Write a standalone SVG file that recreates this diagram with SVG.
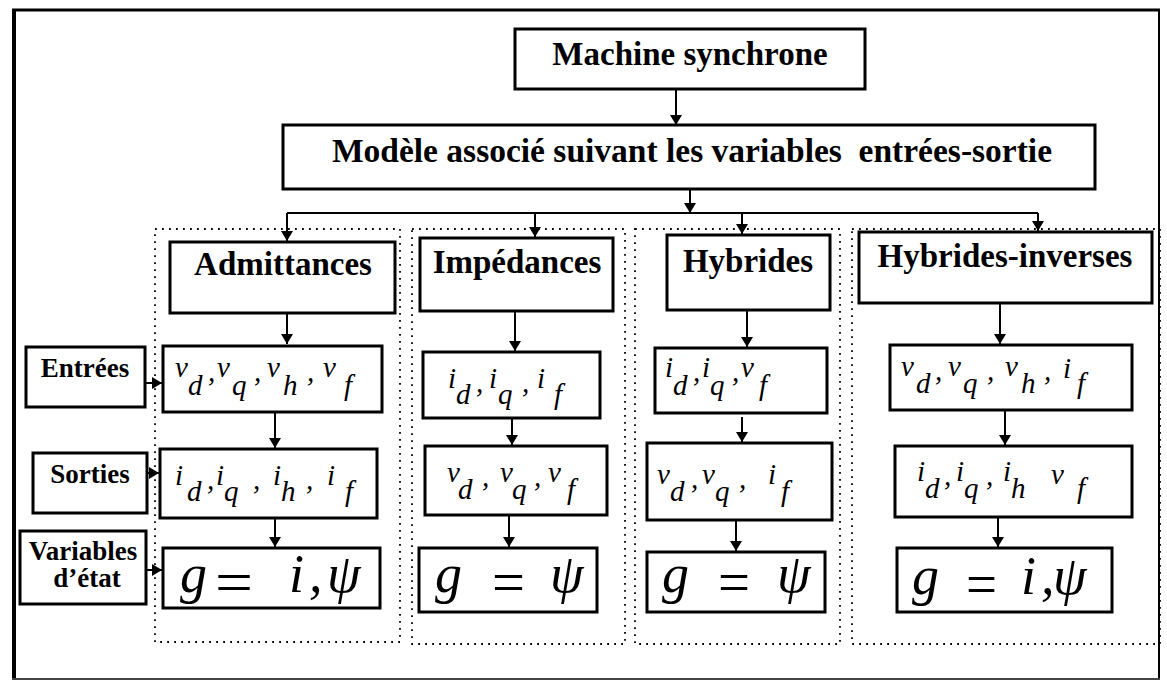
<svg xmlns="http://www.w3.org/2000/svg" width="1167" height="683" viewBox="0 0 1167 683">
<defs>
<style>
.box{fill:#fff;stroke:#000;stroke-width:3}
.dot{fill:none;stroke:#000;stroke-width:1.8;stroke-dasharray:1.8 5.2}
.con{fill:none;stroke:#000;stroke-width:2}
.arr{marker-end:url(#ah)}
.h{font-family:"Liberation Serif","Times New Roman",serif;font-weight:bold;font-size:33px;text-anchor:middle;fill:#000}
.s{font-family:"Liberation Serif","Times New Roman",serif;font-weight:bold;font-size:27px;text-anchor:middle;fill:#000}
.m{font-family:"Liberation Serif","Times New Roman",serif;font-style:italic;font-size:29px;fill:#000}
.g{font-family:"Liberation Serif","Times New Roman",serif;font-style:italic;font-size:54px;fill:#000}
.eq{font-family:"Liberation Serif","Times New Roman",serif;font-size:62px;fill:#000}
</style>
<marker id="ah" viewBox="0 0 10 12" refX="10" refY="6" markerWidth="11" markerHeight="12" markerUnits="userSpaceOnUse" orient="auto">
<path d="M0,0 L10,6 L0,12 z" fill="#000"/>
</marker>
</defs>
<rect x="0" y="0" width="1167" height="683" fill="#fff"/>
<g id="frame" fill="none" stroke="#000">
<path d="M14,9 V679" stroke-width="4"/>
<path d="M12,10 H1160" stroke-width="3"/>
<path d="M1159,9 V680" stroke-width="2"/>
<path d="M12,679 H1160" stroke-width="2" stroke="#444"/>
</g>
<g id="columns">
<rect class="dot" x="155" y="229" width="245" height="413"/>
<rect class="dot" x="412" y="229" width="213" height="415"/>
<rect class="dot" x="635" y="229" width="205" height="415"/>
<rect class="dot" x="852" y="229" width="308" height="415"/>
</g>
<g id="connectors">
<path class="con arr" d="M676,89 V125"/>
<path class="con arr" d="M690,189 V213"/>
<path class="con" d="M287,213 H1038"/>
<path class="con arr" d="M287,213 V241"/>
<path class="con arr" d="M535,213 V237"/>
<path class="con arr" d="M742,213 V234"/>
<path class="con arr" d="M1038,213 V231"/>
<path class="con arr" d="M287,313 V344"/>
<path class="con arr" d="M275,412 V448"/>
<path class="con arr" d="M275,518 V547"/>
<path class="con arr" d="M145,383 H162"/>
<path class="con arr" d="M147,473 H159"/>
<path class="con arr" d="M146,570 H162"/>
<path class="con arr" d="M515,311 V351"/>
<path class="con arr" d="M512,418 V445"/>
<path class="con arr" d="M509,515 V547"/>
<path class="con arr" d="M747,310 V347"/>
<path class="con arr" d="M742,417 V442"/>
<path class="con arr" d="M736,520 V551"/>
<path class="con arr" d="M1000,303 V344"/>
<path class="con arr" d="M1005,410 V445"/>
<path class="con arr" d="M998,517 V547"/>
</g>
<g id="machine">
<rect class="box" x="515" y="29" width="350" height="60"/>
<text class="h" x="690" y="65">Machine synchrone</text>
</g>
<g id="modele">
<rect class="box" x="283" y="125" width="812" height="64"/>
<text class="h" x="692" y="162" style="font-size:33.5px">Modèle associé suivant les variables&#160; entrées-sortie</text>
</g>
<g id="admittances">
<rect class="box" x="170" y="242" width="225" height="71"/>
<text class="h" x="283" y="275">Admittances</text>
</g>
<g id="impedances">
<rect class="box" x="420" y="238" width="193" height="73"/>
<text class="h" x="517" y="273">Impédances</text>
</g>
<g id="hybrides">
<rect class="box" x="667" y="235" width="163" height="75"/>
<text class="h" x="748" y="272">Hybrides</text>
</g>
<g id="hybrides-inverses">
<rect class="box" x="859" y="232" width="293" height="71"/>
<text class="h" x="1005" y="267">Hybrides-inverses</text>
</g>
<g id="entrees">
<rect class="box" x="26" y="347" width="119" height="60"/>
<text class="s" x="85" y="377">Entrées</text>
</g>
<g id="sorties">
<rect class="box" x="33" y="453" width="114" height="60"/>
<text class="s" x="90" y="483">Sorties</text>
</g>
<g id="variables-etat">
<rect class="box" x="20" y="531" width="126" height="73"/>
<text class="s" x="83" y="560">Variables</text>
<text class="s" x="87" y="587">d’état</text>
</g>
<g id="adm-entrees">
<rect class="box" x="163" y="346" width="219" height="66"/>
<text class="m"><tspan x="175" y="377">v</tspan><tspan x="188" y="395">d</tspan><tspan x="208" y="381">,</tspan><tspan x="217" y="377">v</tspan><tspan x="232" y="395">q</tspan><tspan x="254" y="381">,</tspan><tspan x="267" y="377">v</tspan><tspan x="283" y="395">h</tspan><tspan x="307" y="381">,</tspan><tspan x="323" y="377">v</tspan><tspan x="344" y="395">f</tspan></text>
</g>
<g id="adm-sorties">
<rect class="box" x="160" y="449" width="217" height="69"/>
<text class="m"><tspan x="175" y="485">i</tspan><tspan x="187" y="501">d</tspan><tspan x="207" y="489">,</tspan><tspan x="216" y="485">i</tspan><tspan x="224" y="501">q</tspan><tspan x="253" y="489">,</tspan><tspan x="273" y="485">i</tspan><tspan x="281" y="501">h</tspan><tspan x="306" y="489">,</tspan><tspan x="327" y="485">i</tspan><tspan x="345" y="501">f</tspan></text>
</g>
<g id="adm-etat">
<rect class="box" x="163" y="548" width="217" height="60"/>
<text class="g" x="180" y="592">g</text>
<text class="eq" x="215" y="603" textLength="38" lengthAdjust="spacingAndGlyphs">=</text>
<text class="g"><tspan x="289" y="592">i</tspan><tspan x="309" y="592">,</tspan><tspan x="327" y="592">ψ</tspan></text>
</g>
<g id="imp-entrees">
<rect class="box" x="423" y="352" width="177" height="66"/>
<text class="m"><tspan x="448" y="388">i</tspan><tspan x="456" y="404">d</tspan><tspan x="476" y="392">,</tspan><tspan x="489" y="388">i</tspan><tspan x="498" y="404">q</tspan><tspan x="522" y="392">,</tspan><tspan x="537" y="388">i</tspan><tspan x="554" y="404">f</tspan></text>
</g>
<g id="imp-sorties">
<rect class="box" x="425" y="446" width="182" height="69"/>
<text class="m"><tspan x="447" y="482">v</tspan><tspan x="458" y="499">d</tspan><tspan x="482" y="486">,</tspan><tspan x="500" y="482">v</tspan><tspan x="512" y="499">q</tspan><tspan x="534" y="486">,</tspan><tspan x="548" y="482">v</tspan><tspan x="567" y="499">f</tspan></text>
</g>
<g id="imp-etat">
<rect class="box" x="419" y="548" width="178" height="64"/>
<text class="g" x="435" y="592">g</text>
<text class="eq" x="492" y="603" textLength="33" lengthAdjust="spacingAndGlyphs">=</text>
<text class="g" x="550" y="592">ψ</text>
</g>
<g id="hyb-entrees">
<rect class="box" x="655" y="348" width="172" height="65"/>
<text class="m"><tspan x="665" y="377">i</tspan><tspan x="673" y="395">d</tspan><tspan x="693" y="381">,</tspan><tspan x="702" y="377">i</tspan><tspan x="710" y="395">q</tspan><tspan x="732" y="381">,</tspan><tspan x="741" y="377">v</tspan><tspan x="759" y="395">f</tspan></text>
</g>
<g id="hyb-sorties">
<rect class="box" x="647" y="443" width="185" height="77"/>
<text class="m"><tspan x="657" y="484">v</tspan><tspan x="670" y="501">d</tspan><tspan x="691" y="488">,</tspan><tspan x="702" y="484">v</tspan><tspan x="715" y="501">q</tspan><tspan x="739" y="488">,</tspan><tspan x="768" y="484">i</tspan><tspan x="781" y="501">f</tspan></text>
</g>
<g id="hyb-etat">
<rect class="box" x="647" y="552" width="178" height="60"/>
<text class="g" x="662" y="592">g</text>
<text class="eq" x="718" y="603" textLength="32" lengthAdjust="spacingAndGlyphs">=</text>
<text class="g" x="777" y="592">ψ</text>
</g>
<g id="hinv-entrees">
<rect class="box" x="890" y="345" width="242" height="65"/>
<text class="m"><tspan x="901" y="376">v</tspan><tspan x="916" y="393">d</tspan><tspan x="935" y="380">,</tspan><tspan x="948" y="376">v</tspan><tspan x="963" y="393">q</tspan><tspan x="987" y="380">,</tspan><tspan x="1005" y="376">v</tspan><tspan x="1021" y="393">h</tspan><tspan x="1044" y="380">,</tspan><tspan x="1063" y="378">i</tspan><tspan x="1077" y="393">f</tspan></text>
</g>
<g id="hinv-sorties">
<rect class="box" x="895" y="446" width="237" height="71"/>
<text class="m"><tspan x="917" y="481">i</tspan><tspan x="925" y="498">d</tspan><tspan x="944" y="485">,</tspan><tspan x="956" y="481">i</tspan><tspan x="964" y="498">q</tspan><tspan x="986" y="485">,</tspan><tspan x="1003" y="481">i</tspan><tspan x="1011" y="498">h</tspan><tspan x="1051" y="484">v</tspan><tspan x="1077" y="498">f</tspan></text>
</g>
<g id="hinv-etat">
<rect class="box" x="897" y="548" width="215" height="64"/>
<text class="g" x="912" y="594">g</text>
<text class="eq" x="966" y="605" textLength="31" lengthAdjust="spacingAndGlyphs">=</text>
<text class="g"><tspan x="1021" y="594">i</tspan><tspan x="1041" y="594">,</tspan><tspan x="1053" y="594">ψ</tspan></text>
</g>
</svg>
